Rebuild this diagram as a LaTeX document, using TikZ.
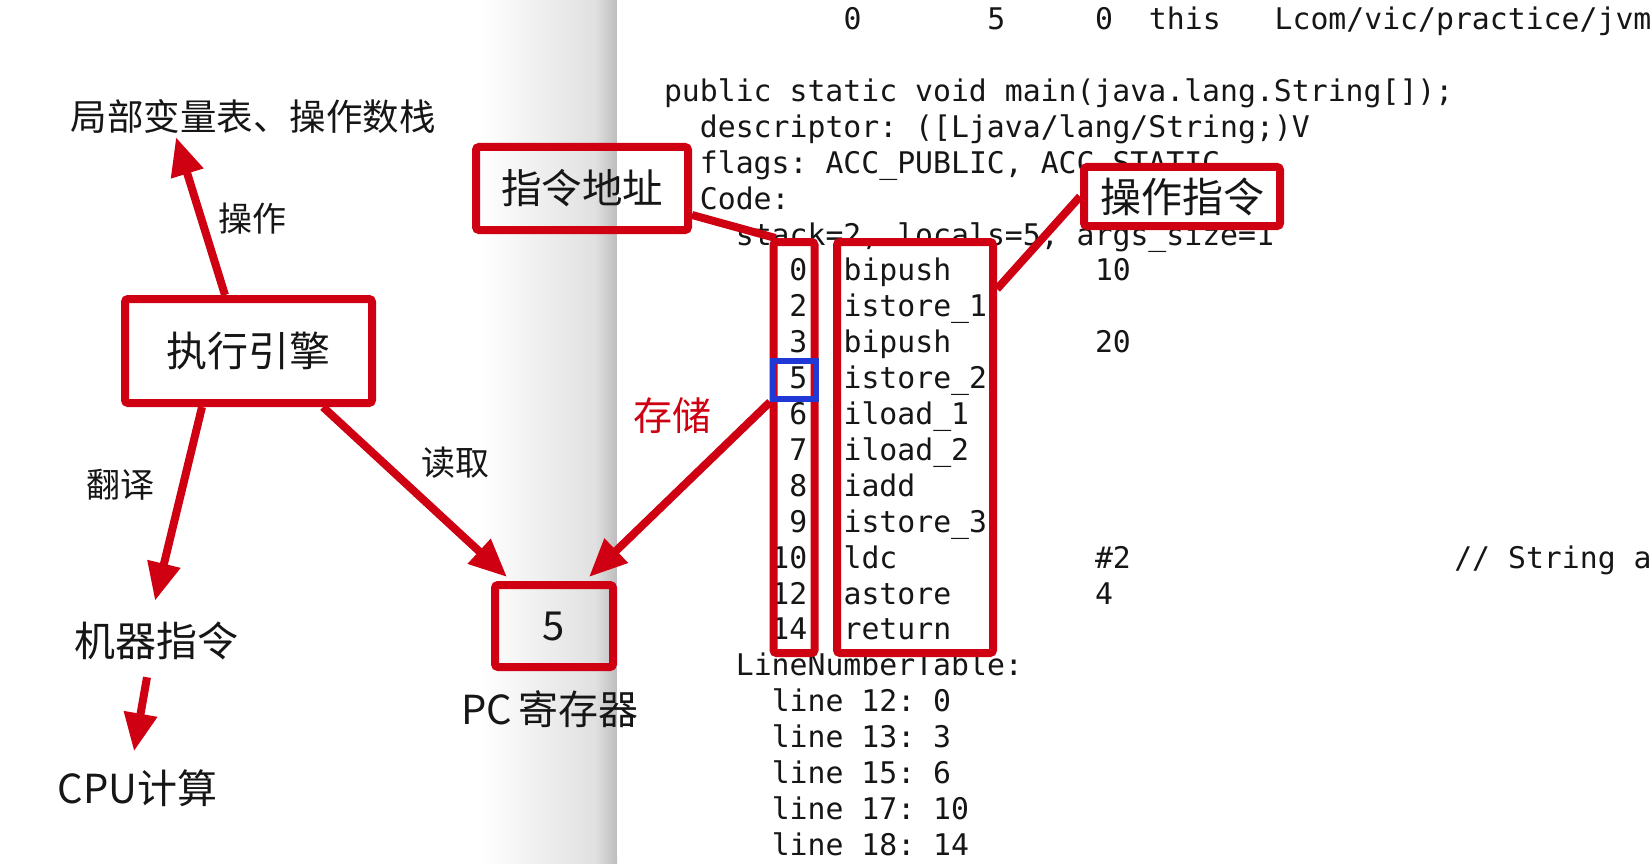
\documentclass[tikz,border=0pt]{standalone}
\usepackage{fontspec}
\usepackage{tikz}
\usetikzlibrary{arrows.meta}
\newfontfamily\cjk{Noto Sans CJK SC}
\newfontfamily\codefont{DejaVu Sans Mono}
\definecolor{markred}{RGB}{206,0,18}
\definecolor{markblue}{RGB}{32,56,214}
\definecolor{ink}{RGB}{22,22,22}
\newcommand{\cjkat}[1]{\cjk\fontsize{#1}{#1}\selectfont}
\newcommand{\colx}[1]{663.8+17.96*#1}
\newcommand{\rowy}[1]{101.4+35.9*#1}
\frenchspacing

\begin{document}
\begin{tikzpicture}[x=1pt,y=-1pt,
  lbl/.style={font=\cjkat{#1},inner sep=0pt,text=ink},
  redbox/.style={draw=markred,line width=8pt,rounded corners=3pt,inner sep=0pt},
  arr/.style={draw=markred,line width=8pt,-{Triangle[length=38pt,width=32pt]}},
  link/.style={draw=markred,line width=8pt},
  jvmcode/.style={font=\codefont\fontsize{29.8}{36}\selectfont,inner sep=0pt,text=ink,anchor=base west}]
\useasboundingbox (0,0) rectangle (1652,864);
\clip (0,0) rectangle (1652,864);
% page and shadow of the javap window
\fill[white] (0,0) rectangle (1652,864);
\shade[left color=white,right color=black!12] (480,0) rectangle (595,864);
\shade[left color=black!12,right color=black!26] (595,0) rectangle (617,864);
\fill[white,rounded corners=30pt] (617,-40) rectangle (1700,880);
% javap output
\node[jvmcode] (lv0) at ({\colx{10}},29.6) {0};
\node[jvmcode] (lv1) at ({\colx{18}},29.6) {5};
\node[jvmcode] (lv2) at ({\colx{24}},29.6) {0};
\node[jvmcode] (lv3) at ({\colx{27}},29.6) {this};
\node[jvmcode] (lv4) at ({\colx{34}},29.6) {Lcom/vic/practice/jvm};
\node[jvmcode] (sig) at ({\colx{0}},{\rowy{0}}) {public static void main(java.lang.String[]);};
\node[jvmcode] (desc) at ({\colx{2}},{\rowy{1}}) {descriptor: ([Ljava/lang/String;)V};
\node[jvmcode] (flags) at ({\colx{2}},{\rowy{2}}) {flags: ACC\_PUBLIC, ACC\_STATIC};
\node[jvmcode] (code) at ({\colx{2}},{\rowy{3}}) {Code:};
\node[jvmcode] (stack) at ({\colx{4}},{\rowy{4}}) {stack=2, locals=5, args\_size=1};
\node[jvmcode,anchor=base east] (i0) at ({\colx{8}},{\rowy{5}}) {0};
\node[jvmcode,anchor=base east] (i2) at ({\colx{8}},{\rowy{6}}) {2};
\node[jvmcode,anchor=base east] (i3) at ({\colx{8}},{\rowy{7}}) {3};
\node[jvmcode,anchor=base east] (i5) at ({\colx{8}},{\rowy{8}}) {5};
\node[jvmcode,anchor=base east] (i6) at ({\colx{8}},{\rowy{9}}) {6};
\node[jvmcode,anchor=base east] (i7) at ({\colx{8}},{\rowy{10}}) {7};
\node[jvmcode,anchor=base east] (i8) at ({\colx{8}},{\rowy{11}}) {8};
\node[jvmcode,anchor=base east] (i9) at ({\colx{8}},{\rowy{12}}) {9};
\node[jvmcode,anchor=base east] (i10) at ({\colx{8}},{\rowy{13}}) {10};
\node[jvmcode,anchor=base east] (i12) at ({\colx{8}},{\rowy{14}}) {12};
\node[jvmcode,anchor=base east] (i14) at ({\colx{8}},{\rowy{15}}) {14};
\node[jvmcode] (c0) at ({\colx{10}},{\rowy{5}}) {bipush};
\node[jvmcode] (c2) at ({\colx{10}},{\rowy{6}}) {istore\_1};
\node[jvmcode] (c3) at ({\colx{10}},{\rowy{7}}) {bipush};
\node[jvmcode] (c5) at ({\colx{10}},{\rowy{8}}) {istore\_2};
\node[jvmcode] (c6) at ({\colx{10}},{\rowy{9}}) {iload\_1};
\node[jvmcode] (c7) at ({\colx{10}},{\rowy{10}}) {iload\_2};
\node[jvmcode] (c8) at ({\colx{10}},{\rowy{11}}) {iadd};
\node[jvmcode] (c9) at ({\colx{10}},{\rowy{12}}) {istore\_3};
\node[jvmcode] (c10) at ({\colx{10}},{\rowy{13}}) {ldc};
\node[jvmcode] (c12) at ({\colx{10}},{\rowy{14}}) {astore};
\node[jvmcode] (c14) at ({\colx{10}},{\rowy{15}}) {return};
\node[jvmcode] (v0) at ({\colx{24}},{\rowy{5}}) {10};
\node[jvmcode] (v3) at ({\colx{24}},{\rowy{7}}) {20};
\node[jvmcode] (v10) at ({\colx{24}},{\rowy{13}}) {\#2};
\node[jvmcode] (v12) at ({\colx{24}},{\rowy{14}}) {4};
\node[jvmcode] (cmt) at ({\colx{44}},{\rowy{13}}) {// String a};
\node[jvmcode] (lnt) at ({\colx{4}},{\rowy{16}}) {LineNumberTable:};
\node[jvmcode] (ln1) at ({\colx{6}},{\rowy{17}}) {line 12: 0};
\node[jvmcode] (ln2) at ({\colx{6}},{\rowy{18}}) {line 13: 3};
\node[jvmcode] (ln3) at ({\colx{6}},{\rowy{19}}) {line 15: 6};
\node[jvmcode] (ln4) at ({\colx{6}},{\rowy{20}}) {line 17: 10};
\node[jvmcode] (ln5) at ({\colx{6}},{\rowy{21}}) {line 18: 14};
% marks on the bytecode
\node[redbox,minimum width=41pt,minimum height=411pt] (idx) at (794,447.5) {};
\node[redbox,minimum width=156pt,minimum height=411pt] (opc) at (915,447.5) {};
\node[draw=markblue,line width=6pt,inner sep=0pt,minimum width=43pt,minimum height=38pt] (cur) at (794.5,380) {};
\node[redbox,lbl=40.5,minimum width=212pt,minimum height=83pt] (addr) at (582,188.5) {指令地址};
\node[redbox,lbl=41,fill=white,minimum width=196pt,minimum height=59pt] (ops) at (1182,196.5) {操作指令};
\draw[link] ([yshift=-26.5pt]addr.east) -- ([xshift=6pt]idx.north west);
\draw[link] (ops.west) -- ([yshift=-51pt]opc.north east);
% execution engine side
\node[lbl=36.5] (lvt) at (253,117) {局部变量表、操作数栈};
\node[lbl=34] (oplbl) at (252,219) {操作};
\node[redbox,lbl=41,minimum width=247pt,minimum height=104pt] (exec) at (248.5,351) {执行引擎};
\node[lbl=34] (trlbl) at (120,485) {翻译};
\node[lbl=41] (mach) at (156.5,641) {机器指令};
\node[lbl=40] (cpu) at (137.5,788) {CPU计算};
\node[lbl=34] (rdlbl) at (455,463) {读取};
\node[redbox,lbl=40,minimum width=118pt,minimum height=82pt] (pc) at (554,626) {5};
\node[lbl=40] (pclbl) at (550,709) {PC\,寄存器};
\node[lbl=39,text=markred] (stlbl) at (672,416) {存储};
\draw[arr] ([xshift=-23.5pt]exec.north) -- ([xshift=-77pt,yshift=-3pt]lvt.south);
\draw[arr] ([xshift=-46.5pt]exec.south) -- ([xshift=-1.5pt,yshift=21pt]mach.north);
\draw[arr] ([xshift=-9.5pt,yshift=-17pt]mach.south) -- ([xshift=-3.5pt,yshift=18pt]cpu.north);
\draw[arr] ([xshift=74.5pt]exec.south) -- ([xshift=-47pt,yshift=4pt]pc.north);
\draw[arr] (cur.south west) -- ([xshift=35pt,yshift=4pt]pc.north);
\end{tikzpicture}
\end{document}
